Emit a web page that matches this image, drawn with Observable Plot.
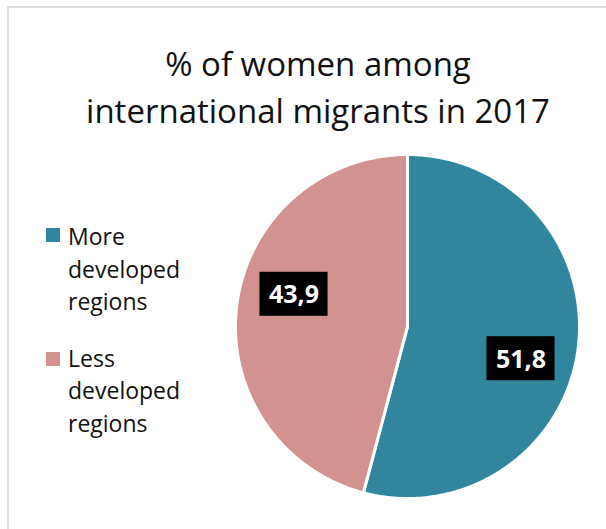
<!DOCTYPE html>
<html>
<head>
<meta charset="utf-8">
<script src="https://cdn.jsdelivr.net/npm/d3@7"></script>
<script src="https://cdn.jsdelivr.net/npm/@observablehq/plot@0.6"></script>
<style>
  html, body { margin: 0; padding: 0; background: #fff; }
  #page { position: relative; width: 606px; height: 529px; overflow: hidden; font-family: "Open Sans", sans-serif; color: #111; }
  #frame { position: absolute; left: 7px; top: 6px; width: 700px; height: 600px; border-left: 2px solid #dedede; border-top: 2px solid #dedede; }
  #title { position: absolute; left: 18px; width: 600px; top: 41px; text-align: center; font-size: 33px; line-height: 46.7px; }
  #chart { position: absolute; left: 0; top: 0; }
  .leg { position: absolute; left: 68px; font-size: 23px; line-height: 32.5px; }
  .sw { position: absolute; left: 46px; width: 14px; height: 14px; }
</style>
</head>
<body>
<div id="page">
  <div id="frame"></div>
  <div id="chart"></div>
  <div id="title"></div>
  <div id="legend"></div>
</div>
<script>
const titleLines = ["% of women among", "international migrants in 2017"];
const categories = ["More developed regions", "Less developed regions"];
const legendLines = [["More", "developed", "regions"], ["Less", "developed", "regions"]];
const values = [51.8, 43.9];
const valueLabels = ["51,8", "43,9"];
const colors = ["#31869e", "#d29290"];

// title
document.getElementById("title").innerHTML = titleLines.join("<br>");

// legend
const legend = document.getElementById("legend");
const legendTops = [220, 341.5];
const swatchTops = [228, 352];
legendLines.forEach((lines, i) => {
  const sw = document.createElement("div");
  sw.className = "sw";
  sw.style.top = swatchTops[i] + "px";
  sw.style.background = colors[i];
  legend.appendChild(sw);
  const t = document.createElement("div");
  t.className = "leg";
  t.style.top = legendTops[i] + "px";
  t.innerHTML = lines.join("<br>");
  legend.appendChild(t);
});

// pie geometry
const data = categories.map((c, i) => ({cat: c, value: values[i], label: valueLabels[i]}));
const arcs = d3.pie().sort(null).value(d => d.value)(data);
const pts = [];
arcs.forEach(a => {
  pts.push({cat: a.data.cat, x: 0, y: 0});
  const n = 200;
  for (let k = 0; k <= n; k++) {
    const t = a.startAngle + (a.endAngle - a.startAngle) * k / n;
    pts.push({cat: a.data.cat, x: Math.sin(t), y: Math.cos(t)});
  }
  pts.push({cat: a.data.cat, x: 0, y: 0});
});
const labelShift = 0.147, labelR = 0.686;
const labs = arcs.map(a => {
  const m = (a.startAngle + a.endAngle) / 2 + labelShift;
  return {cat: a.data.cat, label: a.data.label, x: labelR * Math.sin(m), y: labelR * Math.cos(m)};
});
const bw = 0.198, bh = 0.128;

const cx = 407, cy = 326, R = 172;
const plot = Plot.plot({
  width: 606,
  height: 529,
  margin: 0,
  x: {domain: [-1, 1], range: [cx - R, cx + R], axis: null},
  y: {domain: [-1, 1], range: [cy + R, cy - R], axis: null},
  color: {domain: categories, range: colors},
  style: {background: "transparent", overflow: "visible"},
  marks: [
    Plot.line(pts, {x: "x", y: "y", z: "cat", fill: "cat", stroke: "white", strokeWidth: 3, strokeLinejoin: "miter", curve: "linear"}),
    Plot.rect(labs, {x1: d => d.x - bw, x2: d => d.x + bw, y1: d => d.y - bh, y2: d => d.y + bh, fill: "black"}),
    Plot.text(labs, {x: "x", y: "y", text: "label", fill: "white", fontSize: 25, fontWeight: "bold", fontFamily: "Open Sans", dy: 1})
  ]
});
document.getElementById("chart").appendChild(plot);
</script>
</body>
</html>
